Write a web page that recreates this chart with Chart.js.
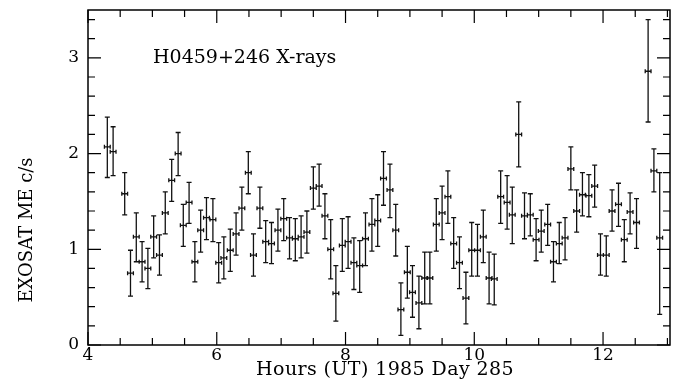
<!DOCTYPE html>
<html>
<head>
<meta charset="utf-8">
<script src="https://cdn.jsdelivr.net/npm/chart.js@4"></script>
<style>
  html, body { margin: 0; padding: 0; background: #fff; }
  #wrap { width: 675px; height: 391px; position: relative; }
</style>
</head>
<body>
<div id="wrap"><canvas id="lc"></canvas></div>
<script>
// light curve, one bin ~0.09 h
const hours = [4.30, 4.39, 4.57, 4.66, 4.75, 4.84, 4.93, 5.02, 5.11, 5.20,
    5.30, 5.40, 5.48, 5.57, 5.66, 5.75, 5.84, 5.94, 6.03, 6.11,
    6.21, 6.30, 6.39, 6.49, 6.57, 6.67, 6.76, 6.85, 6.95, 7.04,
    7.13, 7.22, 7.31, 7.40, 7.50, 7.59, 7.68, 7.77, 7.85, 7.95,
    8.04, 8.13, 8.22, 8.31, 8.41, 8.50, 8.59, 8.69, 8.78, 8.86,
    8.96, 9.04, 9.14, 9.23, 9.31, 9.41, 9.50, 9.59, 9.68, 9.77,
    9.87, 9.96, 10.05, 10.14, 10.23, 10.31, 10.41, 10.51, 10.59, 10.69,
    10.78, 10.87, 10.96, 11.04, 11.14, 11.23, 11.32, 11.41, 11.50, 11.59,
    11.68, 11.78, 11.87, 11.96, 12.05, 12.14, 12.24, 12.33, 12.42, 12.52,
    12.70, 12.79, 12.88];
const rate = [2.07, 2.02, 1.58, 0.75, 1.13, 0.87, 0.80, 1.13, 0.94, 1.38,
    1.72, 2.00, 1.25, 1.49, 0.87, 1.20, 1.33, 1.31, 0.86, 0.91,
    0.99, 1.16, 1.43, 1.80, 0.94, 1.43, 1.08, 1.06, 1.20, 1.32,
    1.12, 1.11, 1.13, 1.18, 1.64, 1.66, 1.35, 1.00, 0.54, 1.04,
    1.08, 0.86, 0.83, 1.11, 1.26, 1.30, 1.74, 1.62, 1.20, 0.37,
    0.76, 0.55, 0.44, 0.70, 0.70, 1.26, 1.38, 1.55, 1.06, 0.86,
    0.49, 0.99, 0.99, 1.13, 0.70, 0.69, 1.55, 1.49, 1.36, 2.20,
    1.35, 1.36, 1.10, 1.19, 1.26, 0.87, 1.06, 1.12, 1.84, 1.40,
    1.57, 1.56, 1.66, 0.94, 0.94, 1.40, 1.47, 1.10, 1.39, 1.28,
    2.86, 1.82, 1.12];
const rateHi = [2.38, 2.28, 1.80, 0.99, 1.38, 1.08, 1.01, 1.35, 1.15, 1.60,
    1.94, 2.22, 1.47, 1.70, 1.08, 1.41, 1.54, 1.53, 1.07, 1.13,
    1.21, 1.38, 1.65, 2.02, 1.16, 1.65, 1.30, 1.28, 1.42, 1.53,
    1.33, 1.32, 1.35, 1.40, 1.86, 1.89, 1.58, 1.31, 0.83, 1.32,
    1.34, 1.12, 1.09, 1.38, 1.53, 1.57, 2.02, 1.89, 1.47, 0.65,
    1.03, 0.83, 0.72, 0.97, 0.97, 1.53, 1.66, 1.82, 1.33, 1.13,
    0.76, 1.28, 1.26, 1.41, 0.97, 0.95, 1.82, 1.77, 1.65, 2.54,
    1.59, 1.58, 1.32, 1.41, 1.47, 1.08, 1.28, 1.33, 2.07, 1.62,
    1.80, 1.78, 1.88, 1.16, 1.14, 1.62, 1.69, 1.31, 1.59, 1.53,
    3.40, 2.05, 1.80];
const rateLo = [1.75, 1.77, 1.36, 0.51, 0.87, 0.66, 0.59, 0.91, 0.73, 1.16,
    1.50, 1.77, 1.03, 1.27, 0.66, 0.97, 1.10, 1.08, 0.65, 0.69,
    0.77, 0.94, 1.20, 1.58, 0.72, 1.22, 0.86, 0.85, 0.98, 1.09,
    0.90, 0.88, 0.91, 0.96, 1.42, 1.45, 1.11, 0.69, 0.25, 0.77,
    0.80, 0.58, 0.55, 0.83, 0.98, 1.03, 1.46, 1.33, 0.93, 0.10,
    0.49, 0.29, 0.17, 0.43, 0.43, 0.98, 1.10, 1.27, 0.80, 0.59,
    0.22, 0.72, 0.72, 0.86, 0.43, 0.42, 1.27, 1.21, 1.06, 1.86,
    1.11, 1.14, 0.88, 0.97, 1.04, 0.66, 0.85, 0.89, 1.62, 1.18,
    1.35, 1.34, 1.44, 0.73, 0.72, 1.19, 1.24, 0.87, 1.16, 1.01,
    2.33, 1.60, 0.32];
const binHalf = 0.045;

const xTicks = [4, 6, 8, 10, 12];
const yTicks = [0, 1, 2, 3];
const titleText = 'H0459+246 X-rays';
const xTitle = 'Hours (UT) 1985 Day 285';
const yTitle = 'EXOSAT ME c/s';

const FONT = '"DejaVu Serif", "Liberation Serif", serif';

// H shaped markers with vertical error bars
const errorBars = {
    id: 'errorBars',
    afterDatasetsDraw(chart) {
        const ctx = chart.ctx;
        const xs = chart.scales.x, ys = chart.scales.y;
        ctx.save();
        ctx.strokeStyle = '#111';
        ctx.lineWidth = 1.3;
        ctx.beginPath();
        for (let i = 0; i < hours.length; i++) {
            const px = xs.getPixelForValue(hours[i]);
            const x0 = xs.getPixelForValue(hours[i] - binHalf);
            const x1 = xs.getPixelForValue(hours[i] + binHalf);
            const py = ys.getPixelForValue(rate[i]);
            const yh = ys.getPixelForValue(rateHi[i]);
            const yl = ys.getPixelForValue(rateLo[i]);
            ctx.moveTo(px, yh); ctx.lineTo(px, yl);
            ctx.moveTo(px - 2.5, yh); ctx.lineTo(px + 2.5, yh);
            ctx.moveTo(px - 2.5, yl); ctx.lineTo(px + 2.5, yl);
            ctx.moveTo(x0, py); ctx.lineTo(x1, py);
            ctx.moveTo(x0, py - 2); ctx.lineTo(x0, py + 2);
            ctx.moveTo(x1, py - 2); ctx.lineTo(x1, py + 2);
        }
        ctx.stroke();
        ctx.restore();
    }
};

// box with inward ticks on all sides, plus texts
const frame = {
    id: 'frame',
    afterDraw(chart) {
        const ctx = chart.ctx;
        const a = chart.chartArea;
        const xs = chart.scales.x, ys = chart.scales.y;
        ctx.save();
        ctx.strokeStyle = '#000';
        ctx.lineWidth = 1.5;
        ctx.strokeRect(a.left, a.top, a.right - a.left, a.bottom - a.top);
        ctx.lineWidth = 1.2;
        ctx.beginPath();
        for (let v = 4; v <= xs.max; v += 0.5) {
            const p = xs.getPixelForValue(v);
            const len = v % 2 === 0 ? 13 : 7;
            ctx.moveTo(p, a.bottom); ctx.lineTo(p, a.bottom - len);
            ctx.moveTo(p, a.top); ctx.lineTo(p, a.top + len);
        }
        for (let k = 0; k * 0.2 <= ys.max + 1e-6; k++) {
            const p = ys.getPixelForValue(k * 0.2);
            const len = k % 5 === 0 ? 13 : 7;
            ctx.moveTo(a.left, p); ctx.lineTo(a.left + len, p);
            ctx.moveTo(a.right, p); ctx.lineTo(a.right - len, p);
        }
        ctx.stroke();

        ctx.fillStyle = '#000';
        ctx.font = '19px ' + FONT;
        ctx.textAlign = 'left';
        ctx.textBaseline = 'middle';
        ctx.fillText(titleText, 153, 58);

        ctx.textAlign = 'center';
        ctx.letterSpacing = '0.4px';
        ctx.fillText(xTitle, 385, 370);

        ctx.letterSpacing = '0px';
        ctx.font = '18px ' + FONT;
        ctx.translate(27, 230);
        ctx.rotate(-Math.PI / 2);
        ctx.fillText(yTitle, 0, 0);
        ctx.restore();
    }
};

new Chart(document.getElementById('lc'), {
    type: 'scatter',
    data: {
        datasets: [{
            label: 'ME',
            data: hours.map((h, i) => ({ x: h, y: rate[i] })),
            pointRadius: 0,
            showLine: false
        }]
    },
    options: {
        responsive: true,
        maintainAspectRatio: false,
        animation: false,
        layout: { padding: { top: 10, right: 5, left: 0, bottom: 0 } },
        plugins: {
            legend: { display: false },
            tooltip: { enabled: false }
        },
        scales: {
            x: {
                type: 'linear',
                min: 4,
                max: 13.04,
                afterBuildTicks: s => { s.ticks = xTicks.map(v => ({ value: v })); },
                afterFit: s => { s.height = 46; s.paddingLeft = 0; s.paddingRight = 0; },
                grid: { display: false, drawTicks: false },
                border: { display: false },
                ticks: { color: '#000', padding: 0, maxRotation: 0, font: { family: FONT, size: 17 } }
            },
            y: {
                type: 'linear',
                min: 0,
                max: 3.5,
                afterBuildTicks: s => { s.ticks = yTicks.map(v => ({ value: v })); },
                afterFit: s => { s.width = 88; s.paddingTop = 0; s.paddingBottom = 0; },
                grid: { display: false, drawTicks: false },
                border: { display: false },
                ticks: { color: '#000', padding: 9, font: { family: FONT, size: 17 } }
            }
        }
    },
    plugins: [errorBars, frame]
});
</script>
</body>
</html>
